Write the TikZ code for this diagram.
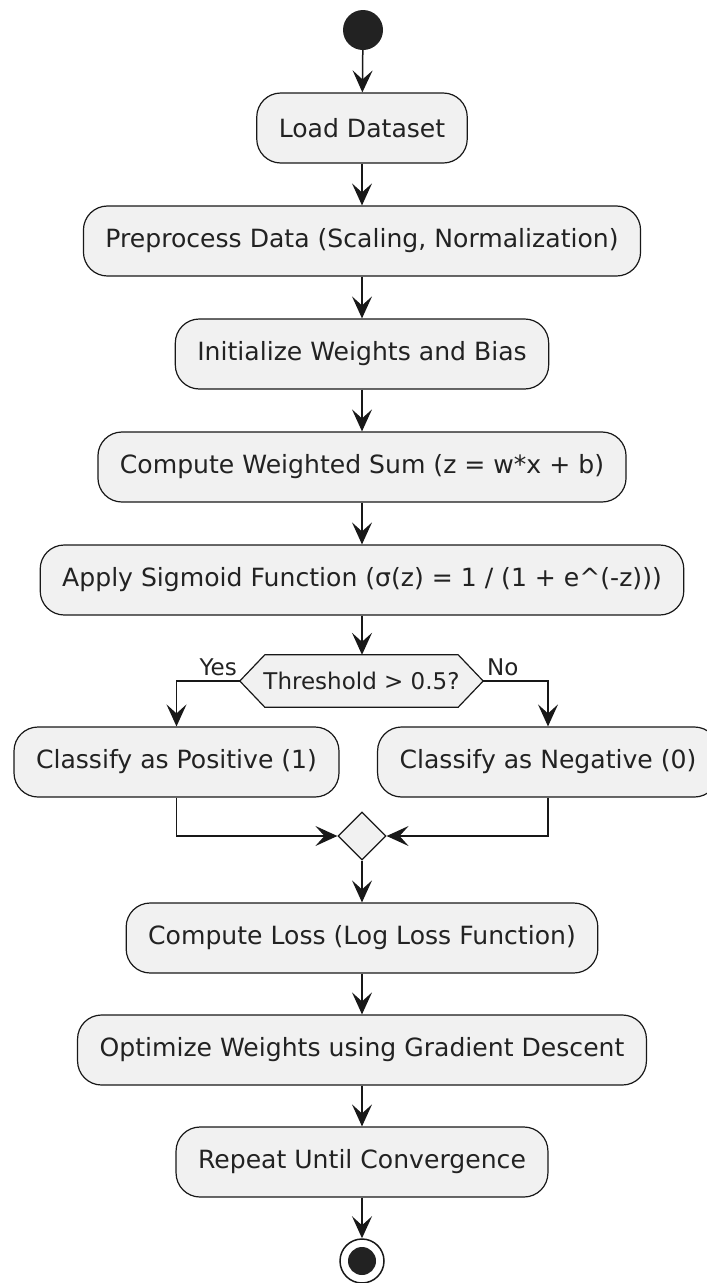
\documentclass[tikz,border=0pt]{standalone}
\usepackage{fontspec}
\setmainfont{DejaVu Sans}
\usetikzlibrary{arrows.meta,shapes.geometric}
\definecolor{boxfill}{HTML}{F1F1F1}
\definecolor{linec}{HTML}{181818}
\definecolor{txt}{HTML}{222222}
\begin{document}
\begin{tikzpicture}[x=1pt,y=-1pt,
  act/.style={draw=linec, fill=boxfill, line width=1.2pt, rounded corners=24pt,
    minimum height=70pt, inner xsep=22pt, inner ysep=0pt,
    font=\fontsize{25.1}{30}\selectfont, text=txt},
  flow/.style={draw=linec, line width=1.5pt, -{Stealth[length=22pt,width=20pt,inset=9pt]}},
  lbl/.style={font=\fontsize{23}{27}\selectfont, text=txt, inner sep=0pt},
  hexstyle/.style={draw=linec, fill=boxfill, line width=1.2pt}]
\useasboundingbox (0,0) rectangle (707,1283);
\node[circle, fill=txt, minimum size=40pt, inner sep=0pt] (start) at (363,30) {};
\node[act] (load) at (362,128) {Load Dataset};
\node[act] (pre) at (362,241) {Preprocess Data (Scaling, Normalization)};
\node[act] (init) at (362,354) {Initialize Weights and Bias};
\node[act] (wsum) at (362,467) {Compute Weighted Sum (z = w*x + b)};
\node[act] (sig) at (362,580) {Apply Sigmoid Function (σ(z) = 1 / (1 + e\textasciicircum(-z)))};
% decision hexagon
\node[minimum width=243pt, minimum height=52pt, inner sep=0pt] (dec) at (361.5,681) {};
\draw[hexstyle] (dec.west) -- ([xshift=25pt]dec.north west) -- ([xshift=-25pt]dec.north east)
  -- (dec.east) -- ([xshift=-25pt]dec.south east) -- ([xshift=25pt]dec.south west) -- cycle;
\node[lbl] (dectext) at (dec.center) {Threshold > 0.5?};
\node[act] (pos) at (176.5,762) {Classify as Positive (1)};
\node[act] (neg) at (548,762) {Classify as Negative (0)};
\node[diamond, aspect=1, draw=linec, fill=boxfill, line width=1.2pt, minimum width=48pt, minimum height=48pt, inner sep=0pt] (merge) at (362,836) {};
\node[act] (loss) at (362,938) {Compute Loss (Log Loss Function)};
\node[act] (opt) at (362,1050) {Optimize Weights using Gradient Descent};
\node[act] (rep) at (362,1162) {Repeat Until Convergence};
\node[circle, draw=linec, line width=1.5pt, fill=white, minimum size=44pt, inner sep=0pt] (end) at (362,1261) {};
\fill[txt] (end.center) circle (14pt);
% connectors
\draw[flow] (start) -- (load);
\draw[flow] (load) -- (pre);
\draw[flow] (pre) -- (init);
\draw[flow] (init) -- (wsum);
\draw[flow] (wsum) -- (sig);
\draw[flow] (sig.south) -- (sig.south |- dec.north);
\draw[flow] (dec.west) -| (pos.north);
\draw[flow] (dec.east) -| (neg.north);
\node[lbl, anchor=base east] (yes) at (237,675) {Yes};
\node[lbl, anchor=base west] (no) at (487,675) {No};
\draw[flow] (pos.south) |- (merge.west);
\draw[flow] (neg.south) |- (merge.east);
\draw[flow] (merge) -- (loss);
\draw[flow] (loss) -- (opt);
\draw[flow] (opt) -- (rep);
\draw[flow] (rep) -- (end);
\end{tikzpicture}
\end{document}
